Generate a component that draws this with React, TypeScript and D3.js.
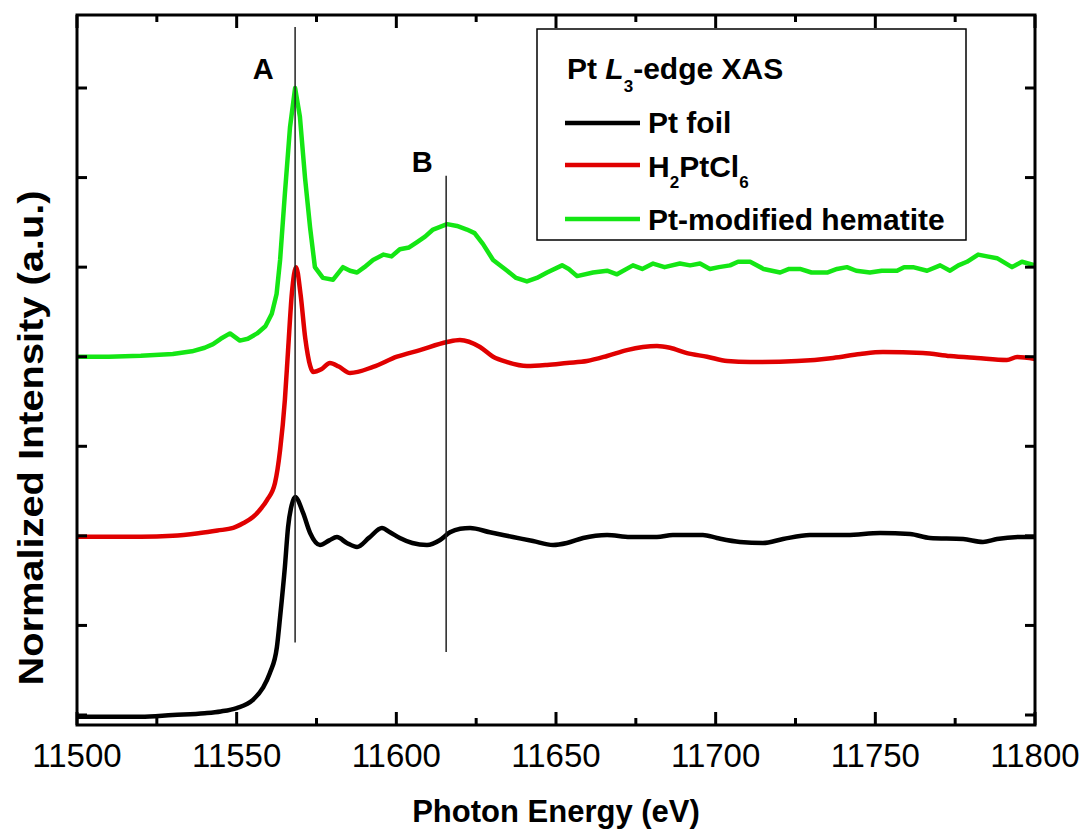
import React from "react";
import * as d3 from "d3";

const W = 1089;
const H = 834;

// ---------- data ----------
const foilE = [11500, 11510, 11520, 11530, 11540, 11545, 11550, 11555.1, 11558.2, 11560.4, 11562.6, 11563.6, 11565.1, 11566.1, 11567.2, 11568.3, 11570.8, 11573, 11576.1, 11579, 11581.4, 11584.5, 11587.7, 11591.5, 11595.5, 11598, 11601.1, 11605, 11609.6, 11613.7, 11616.8, 11620, 11623.1, 11629.3, 11636.5, 11642.8, 11649.1, 11653.4, 11658.5, 11666, 11673.2, 11681.6, 11686.6, 11696, 11700.4, 11707.6, 11714.8, 11721.1, 11729.5, 11741.1, 11751.5, 11760.9, 11767.1, 11777.5, 11783.7, 11788.1, 11796.2, 11800];
const foilV = [-0.01, -0.01, -0.01, 0.0, 0.01, 0.02, 0.039, 0.084, 0.151, 0.234, 0.379, 0.547, 0.826, 1.05, 1.17, 1.217, 1.128, 1.016, 0.949, 0.975, 0.993, 0.96, 0.938, 0.99, 1.044, 1.02, 0.988, 0.96, 0.949, 0.977, 1.02, 1.04, 1.044, 1.02, 0.994, 0.971, 0.949, 0.96, 0.988, 1.005, 0.994, 0.994, 1.005, 1.005, 0.988, 0.966, 0.96, 0.982, 1.005, 1.005, 1.016, 1.01, 0.988, 0.982, 0.966, 0.982, 0.994, 0.994];

const h2E = [11500, 11520, 11530, 11538.5, 11544, 11548.9, 11552, 11555.1, 11557.5, 11559.5, 11562, 11563.6, 11565.1, 11566.1, 11567.3, 11568.6, 11570, 11571.5, 11573, 11573.9, 11576.5, 11579.2, 11582, 11585.5, 11592.7, 11600.2, 11607.4, 11615.9, 11619.9, 11626.2, 11630.3, 11634.7, 11640.9, 11647.2, 11653.4, 11659.7, 11666, 11672.2, 11677.2, 11681.6, 11685.7, 11691, 11697.3, 11703.6, 11710.8, 11725.5, 11736.8, 11745.3, 11752.4, 11764.9, 11773.4, 11781.8, 11791.2, 11794.4, 11800];
const h2V = [0.995, 0.995, 1.0, 1.016, 1.03, 1.044, 1.07, 1.105, 1.15, 1.2, 1.295, 1.479, 1.76, 2.037, 2.356, 2.5, 2.35, 2.1, 1.95, 1.915, 1.93, 1.965, 1.945, 1.909, 1.943, 2.0, 2.037, 2.082, 2.093, 2.054, 2.0, 1.97, 1.948, 1.954, 1.965, 1.976, 2.004, 2.037, 2.054, 2.06, 2.05, 2.02, 2.0, 1.976, 1.97, 1.976, 1.993, 2.015, 2.026, 2.021, 2.004, 1.993, 1.982, 1.998, 1.987];

const hemE = [11500, 11510, 11520, 11530, 11536, 11540, 11542.6, 11545, 11547.9, 11551, 11553.5, 11556.4, 11559, 11561, 11562.5, 11563.6, 11565.1, 11566.7, 11568.3, 11569.8, 11571.4, 11573, 11574.5, 11577, 11580.2, 11583.3, 11585.5, 11587.7, 11590, 11592.7, 11596, 11598.5, 11601.1, 11604, 11606.5, 11609, 11611.5, 11615.9, 11619, 11622.1, 11624.5, 11627.1, 11630.3, 11634.7, 11637.5, 11640.9, 11644, 11647.2, 11651.9, 11654, 11656.6, 11661.6, 11666, 11669.1, 11674.1, 11677, 11680.4, 11684, 11688.8, 11692, 11695.1, 11698.2, 11701, 11704.5, 11707, 11710.8, 11715, 11720.2, 11723, 11726.4, 11730, 11734.9, 11738, 11741.1, 11744, 11748.3, 11752, 11756.8, 11759, 11761.8, 11766.2, 11770.3, 11773.4, 11776, 11778.7, 11782.2, 11785, 11788.1, 11792.8, 11795.9, 11800];
const hemV = [2.0, 2.0, 2.005, 2.015, 2.03, 2.05, 2.07, 2.1, 2.13, 2.09, 2.1, 2.13, 2.17, 2.24, 2.35, 2.54, 2.91, 3.28, 3.5, 3.34, 3.0, 2.72, 2.5, 2.44, 2.43, 2.5, 2.48, 2.47, 2.5, 2.54, 2.57, 2.56, 2.6, 2.61, 2.64, 2.67, 2.71, 2.74, 2.73, 2.71, 2.69, 2.63, 2.54, 2.48, 2.44, 2.42, 2.44, 2.47, 2.51, 2.49, 2.45, 2.47, 2.48, 2.46, 2.51, 2.49, 2.52, 2.5, 2.52, 2.51, 2.52, 2.49, 2.5, 2.51, 2.53, 2.53, 2.49, 2.47, 2.49, 2.49, 2.47, 2.47, 2.49, 2.5, 2.48, 2.47, 2.48, 2.48, 2.5, 2.5, 2.48, 2.51, 2.48, 2.51, 2.53, 2.57, 2.56, 2.55, 2.5, 2.53, 2.51];

const xMajorTicks = [11500, 11550, 11600, 11650, 11700, 11750, 11800];
const xMinorTicks = [11525, 11575, 11625, 11675, 11725, 11775];
const yTicks = [0, 0.5, 1, 1.5, 2, 2.5, 3, 3.5];

const markerA = { label: "A", energy: 11568.3, top: 3.84, bottom: 0.405 };
const markerB = { label: "B", energy: 11615.6, top: 3.01, bottom: 0.352 };

const series = [
  { name: "Pt foil", color: "#000000", E: foilE, V: foilV, smooth: true },
  { name: "H2PtCl6", color: "#e00000", E: h2E, V: h2V, smooth: true },
  { name: "Pt-modified hematite", color: "#14e614", E: hemE, V: hemV, smooth: false },
];

// ---------- layout ----------
const L = 77, R = 1035, T = 15, B = 725;
const x = d3.scaleLinear().domain([11500, 11800]).range([L, R]);
const y = d3.scaleLinear().domain([-0.0558, 3.9075]).range([B, T]);

const FONT = "'Liberation Sans', Arial, Helvetica, sans-serif";

export default function App() {
  const mkLine = (smooth: boolean) =>
    d3
      .line<[number, number]>()
      .x((d) => x(d[0]))
      .y((d) => y(d[1]))
      .curve(smooth ? d3.curveMonotoneX : d3.curveLinear);

  return (
    <svg
      width={W}
      height={H}
      style={{ position: "absolute", left: 0, top: 0, background: "#fff" }}
      fontFamily={FONT}
    >
      <rect x={0} y={0} width={W} height={H} fill="#fff" />
      <defs>
        <clipPath id="plot">
          <rect x={L} y={T} width={R - L} height={B - T} />
        </clipPath>
      </defs>

      {/* curves */}
      <g clipPath="url(#plot)">
        {series.map((s) => (
          <path
            key={s.name}
            d={mkLine(s.smooth)(s.E.map((e, i) => [e, s.V[i]] as [number, number])) || ""}
            fill="none"
            stroke={s.color}
            strokeWidth={4.5}
            strokeLinejoin="round"
          />
        ))}
      </g>

      {/* marker lines */}
      {[markerA, markerB].map((m) => (
        <line
          key={m.label}
          x1={x(m.energy)}
          x2={x(m.energy)}
          y1={y(m.top)}
          y2={y(m.bottom)}
          stroke="#222"
          strokeWidth={1.5}
        />
      ))}
      <text x={x(markerA.energy) - 32} y={79} fontSize={29} fontWeight="bold" textAnchor="middle">
        {markerA.label}
      </text>
      <text x={x(markerB.energy) - 24} y={172} fontSize={29} fontWeight="bold" textAnchor="middle">
        {markerB.label}
      </text>

      {/* frame */}
      <rect x={L} y={T} width={R - L} height={B - T} fill="none" stroke="#000" strokeWidth={3} />

      {/* x ticks (bottom + top, inward) */}
      {xMajorTicks.map((t) => (
        <g key={"xM" + t}>
          <line x1={x(t)} x2={x(t)} y1={B} y2={B - 13} stroke="#000" strokeWidth={3} />
          <line x1={x(t)} x2={x(t)} y1={T} y2={T + 13} stroke="#000" strokeWidth={3} />
          <text x={x(t)} y={767} fontSize={33} textAnchor="middle">
            {t}
          </text>
        </g>
      ))}
      {xMinorTicks.map((t) => (
        <g key={"xm" + t}>
          <line x1={x(t)} x2={x(t)} y1={B} y2={B - 7} stroke="#000" strokeWidth={3} />
          <line x1={x(t)} x2={x(t)} y1={T} y2={T + 7} stroke="#000" strokeWidth={3} />
        </g>
      ))}
      {/* y ticks (left + right, inward) */}
      {yTicks.map((t) => (
        <g key={"y" + t}>
          <line x1={L} x2={L + 10} y1={y(t)} y2={y(t)} stroke="#000" strokeWidth={3} />
          <line x1={R} x2={R - 10} y1={y(t)} y2={y(t)} stroke="#000" strokeWidth={3} />
        </g>
      ))}

      {/* axis titles */}
      <text x={556} y={822} fontSize={31} fontWeight="bold" textAnchor="middle">
        Photon Energy (eV)
      </text>
      <text
        transform={`translate(43, 438) rotate(-90)`}
        fontSize={35}
        fontWeight="bold"
        textAnchor="middle"
        textLength={495}
        lengthAdjust="spacingAndGlyphs"
      >
        Normalized Intensity (a.u.)
      </text>

      {/* legend */}
      <rect x={537} y={29} width={429} height={211} fill="#fff" stroke="#000" strokeWidth={1.5} />
      <text x={567} y={79} fontSize={30} fontWeight="bold">
        Pt <tspan fontStyle="italic">L</tspan>
        <tspan fontSize={17} dy={13}>3</tspan>
        <tspan dy={-13}>-edge XAS</tspan>
      </text>
      {series.map((s, i) => {
        const ly = [123, 165, 219][i];
        const by = [133, 177, 230][i];
        return (
          <g key={"leg" + s.name}>
            <line x1={565} x2={640} y1={ly} y2={ly} stroke={s.color} strokeWidth={4.5} />
            {i === 1 ? (
              <text x={648} y={by} fontSize={30} fontWeight="bold">
                H<tspan fontSize={17} dy={11}>2</tspan>
                <tspan dy={-11}>PtCl</tspan>
                <tspan fontSize={17} dy={11}>6</tspan>
              </text>
            ) : (
              <text x={648} y={by} fontSize={30} fontWeight="bold">
                {s.name}
              </text>
            )}
          </g>
        );
      })}
    </svg>
  );
}
